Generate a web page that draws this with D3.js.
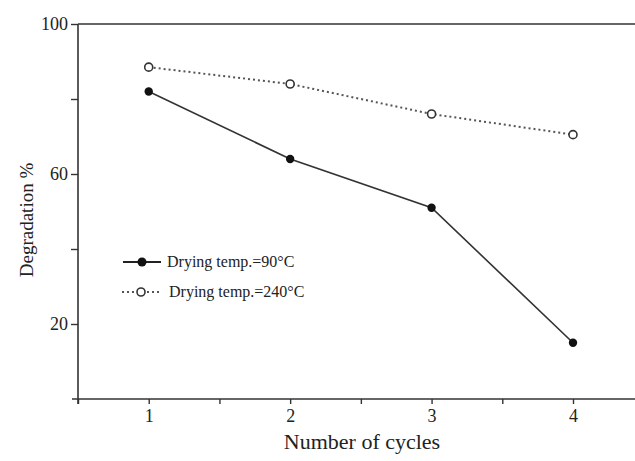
<!DOCTYPE html>
<html><head><meta charset="utf-8">
<script src="https://cdn.jsdelivr.net/npm/d3@7"></script>
<style>body{margin:0;background:#fff}svg{display:block}</style>
</head><body>
<svg id="c" width="635" height="461"></svg>
<script>
const cycles = [1, 2, 3, 4];
const temp90 = [82, 64, 51, 15];
const temp240 = [88.5, 84, 76, 70.5];
const seriesNames = ["Drying temp.=90\u00B0C", "Drying temp.=240\u00B0C"];
const yTicks = [20, 40, 60, 80, 100];
const yLabels = [20, 60, 100];
const xTicks = [0.5, 1, 1.5, 2, 2.5, 3, 3.5, 4];
const xLabels = [1, 2, 3, 4];

const svg = d3.select("#c");
const x = d3.scaleLinear().domain([0.5, 4]).range([78, 573]);
const y = d3.scaleLinear().domain([0, 100]).range([399, 24]);
const font = "'Liberation Serif', 'Times New Roman', serif";
const axCol = "#333";

// frame top line
svg.append("line").attr("x1", 78).attr("x2", 635).attr("y1", y(100)).attr("y2", y(100))
  .attr("stroke", axCol).attr("stroke-width", 1.6);

// y axis
const ya = svg.append("g").attr("transform", "translate(78,0)")
  .call(d3.axisLeft(y).tickValues(yTicks).tickSize(7)
    .tickFormat(d => yLabels.includes(d) ? d : ""));
ya.select(".domain").remove();
ya.append("line").attr("x1", 0).attr("x2", 0).attr("y1", y(100)).attr("y2", 404)
  .attr("stroke", axCol).attr("stroke-width", 1.6);
ya.selectAll(".tick line").attr("stroke", axCol).attr("stroke-width", 1.4);
ya.selectAll(".tick text").attr("font-family", font).attr("font-size", 18).attr("fill", "#222")
  .attr("x", -10).attr("dy", "0.32em");

// x axis
const xa = svg.append("g").attr("transform", "translate(0,399)")
  .call(d3.axisBottom(x).tickValues(xTicks).tickSize(5)
    .tickFormat(d => xLabels.includes(d) ? d : ""));
xa.select(".domain").remove();
xa.append("line").attr("x1", 72).attr("x2", 635).attr("y1", 0).attr("y2", 0)
  .attr("stroke", axCol).attr("stroke-width", 1.6);
xa.selectAll(".tick line").attr("stroke", axCol).attr("stroke-width", 1.4);
xa.selectAll(".tick text").attr("font-family", font).attr("font-size", 18).attr("fill", "#222").attr("y", 10);

// axis titles
svg.append("text").attr("x", 362).attr("y", 449).attr("text-anchor", "middle")
  .attr("font-family", font).attr("font-size", 22).attr("fill", "#222").text("Number of cycles");
svg.append("text").attr("transform", "translate(33,220) rotate(-90)").attr("text-anchor", "middle")
  .attr("font-family", font).attr("font-size", 19).attr("fill", "#222").text("Degradation %");

const line = d3.line().x((d, i) => x(cycles[i])).y(d => y(d));

// series 240 dotted
svg.append("path").datum(temp240).attr("d", line).attr("fill", "none")
  .attr("stroke", "#555").attr("stroke-width", 2).attr("stroke-dasharray", "2,3");
svg.selectAll(".m240").data(temp240).enter().append("circle")
  .attr("cx", (d, i) => x(cycles[i])).attr("cy", d => y(d)).attr("r", 4)
  .attr("fill", "#fff").attr("stroke", "#333").attr("stroke-width", 1.6);

// series 90 solid
svg.append("path").datum(temp90).attr("d", line).attr("fill", "none")
  .attr("stroke", "#333").attr("stroke-width", 1.6);
svg.selectAll(".m90").data(temp90).enter().append("circle")
  .attr("cx", (d, i) => x(cycles[i])).attr("cy", d => y(d)).attr("r", 4.2)
  .attr("fill", "#111");

// legend
const lg = svg.append("g");
lg.append("line").attr("x1", 123).attr("x2", 161).attr("y1", 262).attr("y2", 262)
  .attr("stroke", "#222").attr("stroke-width", 2);
lg.append("circle").attr("cx", 142).attr("cy", 262).attr("r", 4.5).attr("fill", "#111");
lg.append("text").attr("x", 167).attr("y", 267).attr("font-family", font).attr("font-size", 16)
  .attr("fill", "#222").text(seriesNames[0]);
lg.append("line").attr("x1", 122).attr("x2", 162).attr("y1", 292).attr("y2", 292)
  .attr("stroke", "#555").attr("stroke-width", 2).attr("stroke-dasharray", "2,3");
lg.append("circle").attr("cx", 141).attr("cy", 292).attr("r", 4).attr("fill", "#fff")
  .attr("stroke", "#333").attr("stroke-width", 1.6);
lg.append("text").attr("x", 169).attr("y", 297).attr("font-family", font).attr("font-size", 16)
  .attr("fill", "#222").text(seriesNames[1]);
</script>
</body></html>
